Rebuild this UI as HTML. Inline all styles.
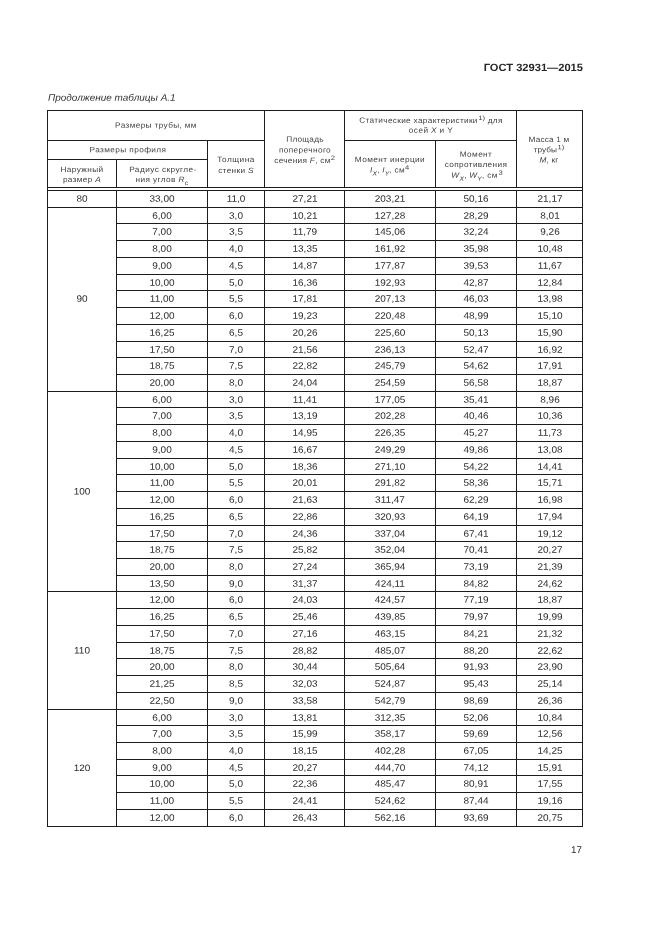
<!DOCTYPE html>
<html lang="ru"><head><meta charset="utf-8"><title>ГОСТ 32931—2015</title>
<style>
html,body{margin:0;padding:0;background:#fff;}
body{width:661px;height:935px;position:relative;overflow:hidden;font-family:"Liberation Sans",sans-serif;}
#page{position:absolute;left:0;top:0;width:661px;height:935px;will-change:transform;}
.l{position:absolute;display:block;background:#1c1c1c;}
.t{position:absolute;width:120px;text-align:center;white-space:nowrap;}
.d{font-size:9.3px;color:#2b2b2b;}
.h{font-size:7.7px;color:#3e3e3e;letter-spacing:0.36px;}
.h em{font-style:italic;}
.h sup{font-size:6.3px;vertical-align:baseline;position:relative;top:-3.3px;line-height:0;display:inline-block;transform:scaleX(1.12);transform-origin:0 50%;margin:0 0.7px 0 0.5px;letter-spacing:0;}
.h sub{font-size:6.3px;vertical-align:baseline;position:relative;top:3px;line-height:0;letter-spacing:0.2px;}
.gost{font-size:10.5px;font-weight:bold;color:#262626;}
.cont{font-size:9.5px;font-style:italic;color:#333;}
.pn{font-size:9.8px;color:#2b2b2b;}
</style></head>
<body>
<div id="page">
<i class="l" style="left:47px;top:109.9px;width:536px;height:1.35px"></i>
<i class="l" style="left:47px;top:826px;width:536px;height:1px"></i>
<i class="l" style="left:46.95px;top:110px;width:1.25px;height:717px"></i>
<i class="l" style="left:582px;top:110px;width:1px;height:717px"></i>
<i class="l" style="left:47px;top:140px;width:218px;height:1px"></i>
<i class="l" style="left:344px;top:140px;width:173px;height:1px"></i>
<i class="l" style="left:47px;top:159px;width:161px;height:1px"></i>
<i class="l" style="left:47px;top:187px;width:536px;height:1.1px"></i>
<i class="l" style="left:47px;top:190px;width:536px;height:1.1px"></i>
<i class="l" style="left:116px;top:159px;width:1px;height:29px"></i>
<i class="l" style="left:116px;top:190px;width:1px;height:637px"></i>
<i class="l" style="left:207px;top:140px;width:1px;height:48px"></i>
<i class="l" style="left:207px;top:190px;width:1px;height:637px"></i>
<i class="l" style="left:264px;top:110px;width:1px;height:78px"></i>
<i class="l" style="left:264px;top:190px;width:1px;height:637px"></i>
<i class="l" style="left:344px;top:110px;width:1px;height:78px"></i>
<i class="l" style="left:344px;top:190px;width:1px;height:637px"></i>
<i class="l" style="left:435px;top:140px;width:1px;height:48px"></i>
<i class="l" style="left:435px;top:190px;width:1px;height:637px"></i>
<i class="l" style="left:516px;top:110px;width:1px;height:78px"></i>
<i class="l" style="left:516px;top:190px;width:1px;height:637px"></i>
<i class="l" style="left:47px;top:207px;width:536px;height:1px"></i>
<i class="l" style="left:116px;top:223px;width:467px;height:1px"></i>
<i class="l" style="left:116px;top:240px;width:467px;height:1px"></i>
<i class="l" style="left:116px;top:257px;width:467px;height:1px"></i>
<i class="l" style="left:116px;top:274px;width:467px;height:1px"></i>
<i class="l" style="left:116px;top:290px;width:467px;height:1px"></i>
<i class="l" style="left:116px;top:307px;width:467px;height:1px"></i>
<i class="l" style="left:116px;top:324px;width:467px;height:1px"></i>
<i class="l" style="left:116px;top:341px;width:467px;height:1px"></i>
<i class="l" style="left:116px;top:357px;width:467px;height:1px"></i>
<i class="l" style="left:116px;top:374px;width:467px;height:1px"></i>
<i class="l" style="left:47px;top:391px;width:536px;height:1px"></i>
<i class="l" style="left:116px;top:407px;width:467px;height:1px"></i>
<i class="l" style="left:116px;top:424px;width:467px;height:1px"></i>
<i class="l" style="left:116px;top:441px;width:467px;height:1px"></i>
<i class="l" style="left:116px;top:458px;width:467px;height:1px"></i>
<i class="l" style="left:116px;top:474px;width:467px;height:1px"></i>
<i class="l" style="left:116px;top:491px;width:467px;height:1px"></i>
<i class="l" style="left:116px;top:508px;width:467px;height:1px"></i>
<i class="l" style="left:116px;top:525px;width:467px;height:1px"></i>
<i class="l" style="left:116px;top:541px;width:467px;height:1px"></i>
<i class="l" style="left:116px;top:558px;width:467px;height:1px"></i>
<i class="l" style="left:116px;top:575px;width:467px;height:1px"></i>
<i class="l" style="left:47px;top:591px;width:536px;height:1px"></i>
<i class="l" style="left:116px;top:608px;width:467px;height:1px"></i>
<i class="l" style="left:116px;top:625px;width:467px;height:1px"></i>
<i class="l" style="left:116px;top:642px;width:467px;height:1px"></i>
<i class="l" style="left:116px;top:658px;width:467px;height:1px"></i>
<i class="l" style="left:116px;top:675px;width:467px;height:1px"></i>
<i class="l" style="left:116px;top:692px;width:467px;height:1px"></i>
<i class="l" style="left:47px;top:709px;width:536px;height:1px"></i>
<i class="l" style="left:116px;top:725px;width:467px;height:1px"></i>
<i class="l" style="left:116px;top:742px;width:467px;height:1px"></i>
<i class="l" style="left:116px;top:759px;width:467px;height:1px"></i>
<i class="l" style="left:116px;top:775px;width:467px;height:1px"></i>
<i class="l" style="left:116px;top:792px;width:467px;height:1px"></i>
<i class="l" style="left:116px;top:809px;width:467px;height:1px"></i>
<div class="t d" style="left:102px;width:120px;top:192px;line-height:12px;transform:translateY(0.7px) scaleX(1.075) rotate(0.03deg);">33,00</div>
<div class="t d" style="left:176px;width:120px;top:192px;line-height:12px;transform:translateY(0.7px) scaleX(1.075) rotate(0.03deg);">11,0</div>
<div class="t d" style="left:245px;width:120px;top:192px;line-height:12px;transform:translateY(0.7px) scaleX(1.075) rotate(0.03deg);">27,21</div>
<div class="t d" style="left:330px;width:120px;top:192px;line-height:12px;transform:translateY(0.7px) scaleX(1.075) rotate(0.03deg);">203,21</div>
<div class="t d" style="left:416px;width:120px;top:192px;line-height:12px;transform:translateY(0.7px) scaleX(1.075) rotate(0.03deg);">50,16</div>
<div class="t d" style="left:489.5px;width:120px;top:192px;line-height:12px;transform:translateY(0.7px) scaleX(1.075) rotate(0.03deg);">21,17</div>
<div class="t d" style="left:102px;width:120px;top:209px;line-height:12px;transform:translateY(0.7px) scaleX(1.075) rotate(0.03deg);">6,00</div>
<div class="t d" style="left:176px;width:120px;top:209px;line-height:12px;transform:translateY(0.7px) scaleX(1.075) rotate(0.03deg);">3,0</div>
<div class="t d" style="left:245px;width:120px;top:209px;line-height:12px;transform:translateY(0.7px) scaleX(1.075) rotate(0.03deg);">10,21</div>
<div class="t d" style="left:330px;width:120px;top:209px;line-height:12px;transform:translateY(0.7px) scaleX(1.075) rotate(0.03deg);">127,28</div>
<div class="t d" style="left:416px;width:120px;top:209px;line-height:12px;transform:translateY(0.7px) scaleX(1.075) rotate(0.03deg);">28,29</div>
<div class="t d" style="left:489.5px;width:120px;top:209px;line-height:12px;transform:translateY(0.7px) scaleX(1.075) rotate(0.03deg);">8,01</div>
<div class="t d" style="left:102px;width:120px;top:225px;line-height:12px;transform:translateY(0.7px) scaleX(1.075) rotate(0.03deg);">7,00</div>
<div class="t d" style="left:176px;width:120px;top:225px;line-height:12px;transform:translateY(0.7px) scaleX(1.075) rotate(0.03deg);">3,5</div>
<div class="t d" style="left:245px;width:120px;top:225px;line-height:12px;transform:translateY(0.7px) scaleX(1.075) rotate(0.03deg);">11,79</div>
<div class="t d" style="left:330px;width:120px;top:225px;line-height:12px;transform:translateY(0.7px) scaleX(1.075) rotate(0.03deg);">145,06</div>
<div class="t d" style="left:416px;width:120px;top:225px;line-height:12px;transform:translateY(0.7px) scaleX(1.075) rotate(0.03deg);">32,24</div>
<div class="t d" style="left:489.5px;width:120px;top:225px;line-height:12px;transform:translateY(0.7px) scaleX(1.075) rotate(0.03deg);">9,26</div>
<div class="t d" style="left:102px;width:120px;top:242px;line-height:12px;transform:translateY(0.7px) scaleX(1.075) rotate(0.03deg);">8,00</div>
<div class="t d" style="left:176px;width:120px;top:242px;line-height:12px;transform:translateY(0.7px) scaleX(1.075) rotate(0.03deg);">4,0</div>
<div class="t d" style="left:245px;width:120px;top:242px;line-height:12px;transform:translateY(0.7px) scaleX(1.075) rotate(0.03deg);">13,35</div>
<div class="t d" style="left:330px;width:120px;top:242px;line-height:12px;transform:translateY(0.7px) scaleX(1.075) rotate(0.03deg);">161,92</div>
<div class="t d" style="left:416px;width:120px;top:242px;line-height:12px;transform:translateY(0.7px) scaleX(1.075) rotate(0.03deg);">35,98</div>
<div class="t d" style="left:489.5px;width:120px;top:242px;line-height:12px;transform:translateY(0.7px) scaleX(1.075) rotate(0.03deg);">10,48</div>
<div class="t d" style="left:102px;width:120px;top:259px;line-height:12px;transform:translateY(0.7px) scaleX(1.075) rotate(0.03deg);">9,00</div>
<div class="t d" style="left:176px;width:120px;top:259px;line-height:12px;transform:translateY(0.7px) scaleX(1.075) rotate(0.03deg);">4,5</div>
<div class="t d" style="left:245px;width:120px;top:259px;line-height:12px;transform:translateY(0.7px) scaleX(1.075) rotate(0.03deg);">14,87</div>
<div class="t d" style="left:330px;width:120px;top:259px;line-height:12px;transform:translateY(0.7px) scaleX(1.075) rotate(0.03deg);">177,87</div>
<div class="t d" style="left:416px;width:120px;top:259px;line-height:12px;transform:translateY(0.7px) scaleX(1.075) rotate(0.03deg);">39,53</div>
<div class="t d" style="left:489.5px;width:120px;top:259px;line-height:12px;transform:translateY(0.7px) scaleX(1.075) rotate(0.03deg);">11,67</div>
<div class="t d" style="left:102px;width:120px;top:276px;line-height:12px;transform:translateY(0.7px) scaleX(1.075) rotate(0.03deg);">10,00</div>
<div class="t d" style="left:176px;width:120px;top:276px;line-height:12px;transform:translateY(0.7px) scaleX(1.075) rotate(0.03deg);">5,0</div>
<div class="t d" style="left:245px;width:120px;top:276px;line-height:12px;transform:translateY(0.7px) scaleX(1.075) rotate(0.03deg);">16,36</div>
<div class="t d" style="left:330px;width:120px;top:276px;line-height:12px;transform:translateY(0.7px) scaleX(1.075) rotate(0.03deg);">192,93</div>
<div class="t d" style="left:416px;width:120px;top:276px;line-height:12px;transform:translateY(0.7px) scaleX(1.075) rotate(0.03deg);">42,87</div>
<div class="t d" style="left:489.5px;width:120px;top:276px;line-height:12px;transform:translateY(0.7px) scaleX(1.075) rotate(0.03deg);">12,84</div>
<div class="t d" style="left:102px;width:120px;top:292px;line-height:12px;transform:translateY(0.7px) scaleX(1.075) rotate(0.03deg);">11,00</div>
<div class="t d" style="left:176px;width:120px;top:292px;line-height:12px;transform:translateY(0.7px) scaleX(1.075) rotate(0.03deg);">5,5</div>
<div class="t d" style="left:245px;width:120px;top:292px;line-height:12px;transform:translateY(0.7px) scaleX(1.075) rotate(0.03deg);">17,81</div>
<div class="t d" style="left:330px;width:120px;top:292px;line-height:12px;transform:translateY(0.7px) scaleX(1.075) rotate(0.03deg);">207,13</div>
<div class="t d" style="left:416px;width:120px;top:292px;line-height:12px;transform:translateY(0.7px) scaleX(1.075) rotate(0.03deg);">46,03</div>
<div class="t d" style="left:489.5px;width:120px;top:292px;line-height:12px;transform:translateY(0.7px) scaleX(1.075) rotate(0.03deg);">13,98</div>
<div class="t d" style="left:102px;width:120px;top:309px;line-height:12px;transform:translateY(0.7px) scaleX(1.075) rotate(0.03deg);">12,00</div>
<div class="t d" style="left:176px;width:120px;top:309px;line-height:12px;transform:translateY(0.7px) scaleX(1.075) rotate(0.03deg);">6,0</div>
<div class="t d" style="left:245px;width:120px;top:309px;line-height:12px;transform:translateY(0.7px) scaleX(1.075) rotate(0.03deg);">19,23</div>
<div class="t d" style="left:330px;width:120px;top:309px;line-height:12px;transform:translateY(0.7px) scaleX(1.075) rotate(0.03deg);">220,48</div>
<div class="t d" style="left:416px;width:120px;top:309px;line-height:12px;transform:translateY(0.7px) scaleX(1.075) rotate(0.03deg);">48,99</div>
<div class="t d" style="left:489.5px;width:120px;top:309px;line-height:12px;transform:translateY(0.7px) scaleX(1.075) rotate(0.03deg);">15,10</div>
<div class="t d" style="left:102px;width:120px;top:326px;line-height:12px;transform:translateY(0.7px) scaleX(1.075) rotate(0.03deg);">16,25</div>
<div class="t d" style="left:176px;width:120px;top:326px;line-height:12px;transform:translateY(0.7px) scaleX(1.075) rotate(0.03deg);">6,5</div>
<div class="t d" style="left:245px;width:120px;top:326px;line-height:12px;transform:translateY(0.7px) scaleX(1.075) rotate(0.03deg);">20,26</div>
<div class="t d" style="left:330px;width:120px;top:326px;line-height:12px;transform:translateY(0.7px) scaleX(1.075) rotate(0.03deg);">225,60</div>
<div class="t d" style="left:416px;width:120px;top:326px;line-height:12px;transform:translateY(0.7px) scaleX(1.075) rotate(0.03deg);">50,13</div>
<div class="t d" style="left:489.5px;width:120px;top:326px;line-height:12px;transform:translateY(0.7px) scaleX(1.075) rotate(0.03deg);">15,90</div>
<div class="t d" style="left:102px;width:120px;top:343px;line-height:12px;transform:translateY(0.7px) scaleX(1.075) rotate(0.03deg);">17,50</div>
<div class="t d" style="left:176px;width:120px;top:343px;line-height:12px;transform:translateY(0.7px) scaleX(1.075) rotate(0.03deg);">7,0</div>
<div class="t d" style="left:245px;width:120px;top:343px;line-height:12px;transform:translateY(0.7px) scaleX(1.075) rotate(0.03deg);">21,56</div>
<div class="t d" style="left:330px;width:120px;top:343px;line-height:12px;transform:translateY(0.7px) scaleX(1.075) rotate(0.03deg);">236,13</div>
<div class="t d" style="left:416px;width:120px;top:343px;line-height:12px;transform:translateY(0.7px) scaleX(1.075) rotate(0.03deg);">52,47</div>
<div class="t d" style="left:489.5px;width:120px;top:343px;line-height:12px;transform:translateY(0.7px) scaleX(1.075) rotate(0.03deg);">16,92</div>
<div class="t d" style="left:102px;width:120px;top:359px;line-height:12px;transform:translateY(0.7px) scaleX(1.075) rotate(0.03deg);">18,75</div>
<div class="t d" style="left:176px;width:120px;top:359px;line-height:12px;transform:translateY(0.7px) scaleX(1.075) rotate(0.03deg);">7,5</div>
<div class="t d" style="left:245px;width:120px;top:359px;line-height:12px;transform:translateY(0.7px) scaleX(1.075) rotate(0.03deg);">22,82</div>
<div class="t d" style="left:330px;width:120px;top:359px;line-height:12px;transform:translateY(0.7px) scaleX(1.075) rotate(0.03deg);">245,79</div>
<div class="t d" style="left:416px;width:120px;top:359px;line-height:12px;transform:translateY(0.7px) scaleX(1.075) rotate(0.03deg);">54,62</div>
<div class="t d" style="left:489.5px;width:120px;top:359px;line-height:12px;transform:translateY(0.7px) scaleX(1.075) rotate(0.03deg);">17,91</div>
<div class="t d" style="left:102px;width:120px;top:376px;line-height:12px;transform:translateY(0.7px) scaleX(1.075) rotate(0.03deg);">20,00</div>
<div class="t d" style="left:176px;width:120px;top:376px;line-height:12px;transform:translateY(0.7px) scaleX(1.075) rotate(0.03deg);">8,0</div>
<div class="t d" style="left:245px;width:120px;top:376px;line-height:12px;transform:translateY(0.7px) scaleX(1.075) rotate(0.03deg);">24,04</div>
<div class="t d" style="left:330px;width:120px;top:376px;line-height:12px;transform:translateY(0.7px) scaleX(1.075) rotate(0.03deg);">254,59</div>
<div class="t d" style="left:416px;width:120px;top:376px;line-height:12px;transform:translateY(0.7px) scaleX(1.075) rotate(0.03deg);">56,58</div>
<div class="t d" style="left:489.5px;width:120px;top:376px;line-height:12px;transform:translateY(0.7px) scaleX(1.075) rotate(0.03deg);">18,87</div>
<div class="t d" style="left:102px;width:120px;top:393px;line-height:12px;transform:translateY(0.7px) scaleX(1.075) rotate(0.03deg);">6,00</div>
<div class="t d" style="left:176px;width:120px;top:393px;line-height:12px;transform:translateY(0.7px) scaleX(1.075) rotate(0.03deg);">3,0</div>
<div class="t d" style="left:245px;width:120px;top:393px;line-height:12px;transform:translateY(0.7px) scaleX(1.075) rotate(0.03deg);">11,41</div>
<div class="t d" style="left:330px;width:120px;top:393px;line-height:12px;transform:translateY(0.7px) scaleX(1.075) rotate(0.03deg);">177,05</div>
<div class="t d" style="left:416px;width:120px;top:393px;line-height:12px;transform:translateY(0.7px) scaleX(1.075) rotate(0.03deg);">35,41</div>
<div class="t d" style="left:489.5px;width:120px;top:393px;line-height:12px;transform:translateY(0.7px) scaleX(1.075) rotate(0.03deg);">8,96</div>
<div class="t d" style="left:102px;width:120px;top:409px;line-height:12px;transform:translateY(0.7px) scaleX(1.075) rotate(0.03deg);">7,00</div>
<div class="t d" style="left:176px;width:120px;top:409px;line-height:12px;transform:translateY(0.7px) scaleX(1.075) rotate(0.03deg);">3,5</div>
<div class="t d" style="left:245px;width:120px;top:409px;line-height:12px;transform:translateY(0.7px) scaleX(1.075) rotate(0.03deg);">13,19</div>
<div class="t d" style="left:330px;width:120px;top:409px;line-height:12px;transform:translateY(0.7px) scaleX(1.075) rotate(0.03deg);">202,28</div>
<div class="t d" style="left:416px;width:120px;top:409px;line-height:12px;transform:translateY(0.7px) scaleX(1.075) rotate(0.03deg);">40,46</div>
<div class="t d" style="left:489.5px;width:120px;top:409px;line-height:12px;transform:translateY(0.7px) scaleX(1.075) rotate(0.03deg);">10,36</div>
<div class="t d" style="left:102px;width:120px;top:426px;line-height:12px;transform:translateY(0.7px) scaleX(1.075) rotate(0.03deg);">8,00</div>
<div class="t d" style="left:176px;width:120px;top:426px;line-height:12px;transform:translateY(0.7px) scaleX(1.075) rotate(0.03deg);">4,0</div>
<div class="t d" style="left:245px;width:120px;top:426px;line-height:12px;transform:translateY(0.7px) scaleX(1.075) rotate(0.03deg);">14,95</div>
<div class="t d" style="left:330px;width:120px;top:426px;line-height:12px;transform:translateY(0.7px) scaleX(1.075) rotate(0.03deg);">226,35</div>
<div class="t d" style="left:416px;width:120px;top:426px;line-height:12px;transform:translateY(0.7px) scaleX(1.075) rotate(0.03deg);">45,27</div>
<div class="t d" style="left:489.5px;width:120px;top:426px;line-height:12px;transform:translateY(0.7px) scaleX(1.075) rotate(0.03deg);">11,73</div>
<div class="t d" style="left:102px;width:120px;top:443px;line-height:12px;transform:translateY(0.7px) scaleX(1.075) rotate(0.03deg);">9,00</div>
<div class="t d" style="left:176px;width:120px;top:443px;line-height:12px;transform:translateY(0.7px) scaleX(1.075) rotate(0.03deg);">4,5</div>
<div class="t d" style="left:245px;width:120px;top:443px;line-height:12px;transform:translateY(0.7px) scaleX(1.075) rotate(0.03deg);">16,67</div>
<div class="t d" style="left:330px;width:120px;top:443px;line-height:12px;transform:translateY(0.7px) scaleX(1.075) rotate(0.03deg);">249,29</div>
<div class="t d" style="left:416px;width:120px;top:443px;line-height:12px;transform:translateY(0.7px) scaleX(1.075) rotate(0.03deg);">49,86</div>
<div class="t d" style="left:489.5px;width:120px;top:443px;line-height:12px;transform:translateY(0.7px) scaleX(1.075) rotate(0.03deg);">13,08</div>
<div class="t d" style="left:102px;width:120px;top:460px;line-height:12px;transform:translateY(0.7px) scaleX(1.075) rotate(0.03deg);">10,00</div>
<div class="t d" style="left:176px;width:120px;top:460px;line-height:12px;transform:translateY(0.7px) scaleX(1.075) rotate(0.03deg);">5,0</div>
<div class="t d" style="left:245px;width:120px;top:460px;line-height:12px;transform:translateY(0.7px) scaleX(1.075) rotate(0.03deg);">18,36</div>
<div class="t d" style="left:330px;width:120px;top:460px;line-height:12px;transform:translateY(0.7px) scaleX(1.075) rotate(0.03deg);">271,10</div>
<div class="t d" style="left:416px;width:120px;top:460px;line-height:12px;transform:translateY(0.7px) scaleX(1.075) rotate(0.03deg);">54,22</div>
<div class="t d" style="left:489.5px;width:120px;top:460px;line-height:12px;transform:translateY(0.7px) scaleX(1.075) rotate(0.03deg);">14,41</div>
<div class="t d" style="left:102px;width:120px;top:476px;line-height:12px;transform:translateY(0.7px) scaleX(1.075) rotate(0.03deg);">11,00</div>
<div class="t d" style="left:176px;width:120px;top:476px;line-height:12px;transform:translateY(0.7px) scaleX(1.075) rotate(0.03deg);">5,5</div>
<div class="t d" style="left:245px;width:120px;top:476px;line-height:12px;transform:translateY(0.7px) scaleX(1.075) rotate(0.03deg);">20,01</div>
<div class="t d" style="left:330px;width:120px;top:476px;line-height:12px;transform:translateY(0.7px) scaleX(1.075) rotate(0.03deg);">291,82</div>
<div class="t d" style="left:416px;width:120px;top:476px;line-height:12px;transform:translateY(0.7px) scaleX(1.075) rotate(0.03deg);">58,36</div>
<div class="t d" style="left:489.5px;width:120px;top:476px;line-height:12px;transform:translateY(0.7px) scaleX(1.075) rotate(0.03deg);">15,71</div>
<div class="t d" style="left:102px;width:120px;top:493px;line-height:12px;transform:translateY(0.7px) scaleX(1.075) rotate(0.03deg);">12,00</div>
<div class="t d" style="left:176px;width:120px;top:493px;line-height:12px;transform:translateY(0.7px) scaleX(1.075) rotate(0.03deg);">6,0</div>
<div class="t d" style="left:245px;width:120px;top:493px;line-height:12px;transform:translateY(0.7px) scaleX(1.075) rotate(0.03deg);">21,63</div>
<div class="t d" style="left:330px;width:120px;top:493px;line-height:12px;transform:translateY(0.7px) scaleX(1.075) rotate(0.03deg);">311,47</div>
<div class="t d" style="left:416px;width:120px;top:493px;line-height:12px;transform:translateY(0.7px) scaleX(1.075) rotate(0.03deg);">62,29</div>
<div class="t d" style="left:489.5px;width:120px;top:493px;line-height:12px;transform:translateY(0.7px) scaleX(1.075) rotate(0.03deg);">16,98</div>
<div class="t d" style="left:102px;width:120px;top:510px;line-height:12px;transform:translateY(0.7px) scaleX(1.075) rotate(0.03deg);">16,25</div>
<div class="t d" style="left:176px;width:120px;top:510px;line-height:12px;transform:translateY(0.7px) scaleX(1.075) rotate(0.03deg);">6,5</div>
<div class="t d" style="left:245px;width:120px;top:510px;line-height:12px;transform:translateY(0.7px) scaleX(1.075) rotate(0.03deg);">22,86</div>
<div class="t d" style="left:330px;width:120px;top:510px;line-height:12px;transform:translateY(0.7px) scaleX(1.075) rotate(0.03deg);">320,93</div>
<div class="t d" style="left:416px;width:120px;top:510px;line-height:12px;transform:translateY(0.7px) scaleX(1.075) rotate(0.03deg);">64,19</div>
<div class="t d" style="left:489.5px;width:120px;top:510px;line-height:12px;transform:translateY(0.7px) scaleX(1.075) rotate(0.03deg);">17,94</div>
<div class="t d" style="left:102px;width:120px;top:527px;line-height:12px;transform:translateY(0.7px) scaleX(1.075) rotate(0.03deg);">17,50</div>
<div class="t d" style="left:176px;width:120px;top:527px;line-height:12px;transform:translateY(0.7px) scaleX(1.075) rotate(0.03deg);">7,0</div>
<div class="t d" style="left:245px;width:120px;top:527px;line-height:12px;transform:translateY(0.7px) scaleX(1.075) rotate(0.03deg);">24,36</div>
<div class="t d" style="left:330px;width:120px;top:527px;line-height:12px;transform:translateY(0.7px) scaleX(1.075) rotate(0.03deg);">337,04</div>
<div class="t d" style="left:416px;width:120px;top:527px;line-height:12px;transform:translateY(0.7px) scaleX(1.075) rotate(0.03deg);">67,41</div>
<div class="t d" style="left:489.5px;width:120px;top:527px;line-height:12px;transform:translateY(0.7px) scaleX(1.075) rotate(0.03deg);">19,12</div>
<div class="t d" style="left:102px;width:120px;top:543px;line-height:12px;transform:translateY(0.7px) scaleX(1.075) rotate(0.03deg);">18,75</div>
<div class="t d" style="left:176px;width:120px;top:543px;line-height:12px;transform:translateY(0.7px) scaleX(1.075) rotate(0.03deg);">7,5</div>
<div class="t d" style="left:245px;width:120px;top:543px;line-height:12px;transform:translateY(0.7px) scaleX(1.075) rotate(0.03deg);">25,82</div>
<div class="t d" style="left:330px;width:120px;top:543px;line-height:12px;transform:translateY(0.7px) scaleX(1.075) rotate(0.03deg);">352,04</div>
<div class="t d" style="left:416px;width:120px;top:543px;line-height:12px;transform:translateY(0.7px) scaleX(1.075) rotate(0.03deg);">70,41</div>
<div class="t d" style="left:489.5px;width:120px;top:543px;line-height:12px;transform:translateY(0.7px) scaleX(1.075) rotate(0.03deg);">20,27</div>
<div class="t d" style="left:102px;width:120px;top:560px;line-height:12px;transform:translateY(0.7px) scaleX(1.075) rotate(0.03deg);">20,00</div>
<div class="t d" style="left:176px;width:120px;top:560px;line-height:12px;transform:translateY(0.7px) scaleX(1.075) rotate(0.03deg);">8,0</div>
<div class="t d" style="left:245px;width:120px;top:560px;line-height:12px;transform:translateY(0.7px) scaleX(1.075) rotate(0.03deg);">27,24</div>
<div class="t d" style="left:330px;width:120px;top:560px;line-height:12px;transform:translateY(0.7px) scaleX(1.075) rotate(0.03deg);">365,94</div>
<div class="t d" style="left:416px;width:120px;top:560px;line-height:12px;transform:translateY(0.7px) scaleX(1.075) rotate(0.03deg);">73,19</div>
<div class="t d" style="left:489.5px;width:120px;top:560px;line-height:12px;transform:translateY(0.7px) scaleX(1.075) rotate(0.03deg);">21,39</div>
<div class="t d" style="left:102px;width:120px;top:577px;line-height:12px;transform:translateY(0.7px) scaleX(1.075) rotate(0.03deg);">13,50</div>
<div class="t d" style="left:176px;width:120px;top:577px;line-height:12px;transform:translateY(0.7px) scaleX(1.075) rotate(0.03deg);">9,0</div>
<div class="t d" style="left:245px;width:120px;top:577px;line-height:12px;transform:translateY(0.7px) scaleX(1.075) rotate(0.03deg);">31,37</div>
<div class="t d" style="left:330px;width:120px;top:577px;line-height:12px;transform:translateY(0.7px) scaleX(1.075) rotate(0.03deg);">424,11</div>
<div class="t d" style="left:416px;width:120px;top:577px;line-height:12px;transform:translateY(0.7px) scaleX(1.075) rotate(0.03deg);">84,82</div>
<div class="t d" style="left:489.5px;width:120px;top:577px;line-height:12px;transform:translateY(0.7px) scaleX(1.075) rotate(0.03deg);">24,62</div>
<div class="t d" style="left:102px;width:120px;top:593px;line-height:12px;transform:translateY(0.7px) scaleX(1.075) rotate(0.03deg);">12,00</div>
<div class="t d" style="left:176px;width:120px;top:593px;line-height:12px;transform:translateY(0.7px) scaleX(1.075) rotate(0.03deg);">6,0</div>
<div class="t d" style="left:245px;width:120px;top:593px;line-height:12px;transform:translateY(0.7px) scaleX(1.075) rotate(0.03deg);">24,03</div>
<div class="t d" style="left:330px;width:120px;top:593px;line-height:12px;transform:translateY(0.7px) scaleX(1.075) rotate(0.03deg);">424,57</div>
<div class="t d" style="left:416px;width:120px;top:593px;line-height:12px;transform:translateY(0.7px) scaleX(1.075) rotate(0.03deg);">77,19</div>
<div class="t d" style="left:489.5px;width:120px;top:593px;line-height:12px;transform:translateY(0.7px) scaleX(1.075) rotate(0.03deg);">18,87</div>
<div class="t d" style="left:102px;width:120px;top:610px;line-height:12px;transform:translateY(0.7px) scaleX(1.075) rotate(0.03deg);">16,25</div>
<div class="t d" style="left:176px;width:120px;top:610px;line-height:12px;transform:translateY(0.7px) scaleX(1.075) rotate(0.03deg);">6,5</div>
<div class="t d" style="left:245px;width:120px;top:610px;line-height:12px;transform:translateY(0.7px) scaleX(1.075) rotate(0.03deg);">25,46</div>
<div class="t d" style="left:330px;width:120px;top:610px;line-height:12px;transform:translateY(0.7px) scaleX(1.075) rotate(0.03deg);">439,85</div>
<div class="t d" style="left:416px;width:120px;top:610px;line-height:12px;transform:translateY(0.7px) scaleX(1.075) rotate(0.03deg);">79,97</div>
<div class="t d" style="left:489.5px;width:120px;top:610px;line-height:12px;transform:translateY(0.7px) scaleX(1.075) rotate(0.03deg);">19,99</div>
<div class="t d" style="left:102px;width:120px;top:627px;line-height:12px;transform:translateY(0.7px) scaleX(1.075) rotate(0.03deg);">17,50</div>
<div class="t d" style="left:176px;width:120px;top:627px;line-height:12px;transform:translateY(0.7px) scaleX(1.075) rotate(0.03deg);">7,0</div>
<div class="t d" style="left:245px;width:120px;top:627px;line-height:12px;transform:translateY(0.7px) scaleX(1.075) rotate(0.03deg);">27,16</div>
<div class="t d" style="left:330px;width:120px;top:627px;line-height:12px;transform:translateY(0.7px) scaleX(1.075) rotate(0.03deg);">463,15</div>
<div class="t d" style="left:416px;width:120px;top:627px;line-height:12px;transform:translateY(0.7px) scaleX(1.075) rotate(0.03deg);">84,21</div>
<div class="t d" style="left:489.5px;width:120px;top:627px;line-height:12px;transform:translateY(0.7px) scaleX(1.075) rotate(0.03deg);">21,32</div>
<div class="t d" style="left:102px;width:120px;top:644px;line-height:12px;transform:translateY(0.7px) scaleX(1.075) rotate(0.03deg);">18,75</div>
<div class="t d" style="left:176px;width:120px;top:644px;line-height:12px;transform:translateY(0.7px) scaleX(1.075) rotate(0.03deg);">7,5</div>
<div class="t d" style="left:245px;width:120px;top:644px;line-height:12px;transform:translateY(0.7px) scaleX(1.075) rotate(0.03deg);">28,82</div>
<div class="t d" style="left:330px;width:120px;top:644px;line-height:12px;transform:translateY(0.7px) scaleX(1.075) rotate(0.03deg);">485,07</div>
<div class="t d" style="left:416px;width:120px;top:644px;line-height:12px;transform:translateY(0.7px) scaleX(1.075) rotate(0.03deg);">88,20</div>
<div class="t d" style="left:489.5px;width:120px;top:644px;line-height:12px;transform:translateY(0.7px) scaleX(1.075) rotate(0.03deg);">22,62</div>
<div class="t d" style="left:102px;width:120px;top:660px;line-height:12px;transform:translateY(0.7px) scaleX(1.075) rotate(0.03deg);">20,00</div>
<div class="t d" style="left:176px;width:120px;top:660px;line-height:12px;transform:translateY(0.7px) scaleX(1.075) rotate(0.03deg);">8,0</div>
<div class="t d" style="left:245px;width:120px;top:660px;line-height:12px;transform:translateY(0.7px) scaleX(1.075) rotate(0.03deg);">30,44</div>
<div class="t d" style="left:330px;width:120px;top:660px;line-height:12px;transform:translateY(0.7px) scaleX(1.075) rotate(0.03deg);">505,64</div>
<div class="t d" style="left:416px;width:120px;top:660px;line-height:12px;transform:translateY(0.7px) scaleX(1.075) rotate(0.03deg);">91,93</div>
<div class="t d" style="left:489.5px;width:120px;top:660px;line-height:12px;transform:translateY(0.7px) scaleX(1.075) rotate(0.03deg);">23,90</div>
<div class="t d" style="left:102px;width:120px;top:677px;line-height:12px;transform:translateY(0.7px) scaleX(1.075) rotate(0.03deg);">21,25</div>
<div class="t d" style="left:176px;width:120px;top:677px;line-height:12px;transform:translateY(0.7px) scaleX(1.075) rotate(0.03deg);">8,5</div>
<div class="t d" style="left:245px;width:120px;top:677px;line-height:12px;transform:translateY(0.7px) scaleX(1.075) rotate(0.03deg);">32,03</div>
<div class="t d" style="left:330px;width:120px;top:677px;line-height:12px;transform:translateY(0.7px) scaleX(1.075) rotate(0.03deg);">524,87</div>
<div class="t d" style="left:416px;width:120px;top:677px;line-height:12px;transform:translateY(0.7px) scaleX(1.075) rotate(0.03deg);">95,43</div>
<div class="t d" style="left:489.5px;width:120px;top:677px;line-height:12px;transform:translateY(0.7px) scaleX(1.075) rotate(0.03deg);">25,14</div>
<div class="t d" style="left:102px;width:120px;top:694px;line-height:12px;transform:translateY(0.7px) scaleX(1.075) rotate(0.03deg);">22,50</div>
<div class="t d" style="left:176px;width:120px;top:694px;line-height:12px;transform:translateY(0.7px) scaleX(1.075) rotate(0.03deg);">9,0</div>
<div class="t d" style="left:245px;width:120px;top:694px;line-height:12px;transform:translateY(0.7px) scaleX(1.075) rotate(0.03deg);">33,58</div>
<div class="t d" style="left:330px;width:120px;top:694px;line-height:12px;transform:translateY(0.7px) scaleX(1.075) rotate(0.03deg);">542,79</div>
<div class="t d" style="left:416px;width:120px;top:694px;line-height:12px;transform:translateY(0.7px) scaleX(1.075) rotate(0.03deg);">98,69</div>
<div class="t d" style="left:489.5px;width:120px;top:694px;line-height:12px;transform:translateY(0.7px) scaleX(1.075) rotate(0.03deg);">26,36</div>
<div class="t d" style="left:102px;width:120px;top:711px;line-height:12px;transform:translateY(0.7px) scaleX(1.075) rotate(0.03deg);">6,00</div>
<div class="t d" style="left:176px;width:120px;top:711px;line-height:12px;transform:translateY(0.7px) scaleX(1.075) rotate(0.03deg);">3,0</div>
<div class="t d" style="left:245px;width:120px;top:711px;line-height:12px;transform:translateY(0.7px) scaleX(1.075) rotate(0.03deg);">13,81</div>
<div class="t d" style="left:330px;width:120px;top:711px;line-height:12px;transform:translateY(0.7px) scaleX(1.075) rotate(0.03deg);">312,35</div>
<div class="t d" style="left:416px;width:120px;top:711px;line-height:12px;transform:translateY(0.7px) scaleX(1.075) rotate(0.03deg);">52,06</div>
<div class="t d" style="left:489.5px;width:120px;top:711px;line-height:12px;transform:translateY(0.7px) scaleX(1.075) rotate(0.03deg);">10,84</div>
<div class="t d" style="left:102px;width:120px;top:727px;line-height:12px;transform:translateY(0.7px) scaleX(1.075) rotate(0.03deg);">7,00</div>
<div class="t d" style="left:176px;width:120px;top:727px;line-height:12px;transform:translateY(0.7px) scaleX(1.075) rotate(0.03deg);">3,5</div>
<div class="t d" style="left:245px;width:120px;top:727px;line-height:12px;transform:translateY(0.7px) scaleX(1.075) rotate(0.03deg);">15,99</div>
<div class="t d" style="left:330px;width:120px;top:727px;line-height:12px;transform:translateY(0.7px) scaleX(1.075) rotate(0.03deg);">358,17</div>
<div class="t d" style="left:416px;width:120px;top:727px;line-height:12px;transform:translateY(0.7px) scaleX(1.075) rotate(0.03deg);">59,69</div>
<div class="t d" style="left:489.5px;width:120px;top:727px;line-height:12px;transform:translateY(0.7px) scaleX(1.075) rotate(0.03deg);">12,56</div>
<div class="t d" style="left:102px;width:120px;top:744px;line-height:12px;transform:translateY(0.7px) scaleX(1.075) rotate(0.03deg);">8,00</div>
<div class="t d" style="left:176px;width:120px;top:744px;line-height:12px;transform:translateY(0.7px) scaleX(1.075) rotate(0.03deg);">4,0</div>
<div class="t d" style="left:245px;width:120px;top:744px;line-height:12px;transform:translateY(0.7px) scaleX(1.075) rotate(0.03deg);">18,15</div>
<div class="t d" style="left:330px;width:120px;top:744px;line-height:12px;transform:translateY(0.7px) scaleX(1.075) rotate(0.03deg);">402,28</div>
<div class="t d" style="left:416px;width:120px;top:744px;line-height:12px;transform:translateY(0.7px) scaleX(1.075) rotate(0.03deg);">67,05</div>
<div class="t d" style="left:489.5px;width:120px;top:744px;line-height:12px;transform:translateY(0.7px) scaleX(1.075) rotate(0.03deg);">14,25</div>
<div class="t d" style="left:102px;width:120px;top:761px;line-height:12px;transform:translateY(0.7px) scaleX(1.075) rotate(0.03deg);">9,00</div>
<div class="t d" style="left:176px;width:120px;top:761px;line-height:12px;transform:translateY(0.7px) scaleX(1.075) rotate(0.03deg);">4,5</div>
<div class="t d" style="left:245px;width:120px;top:761px;line-height:12px;transform:translateY(0.7px) scaleX(1.075) rotate(0.03deg);">20,27</div>
<div class="t d" style="left:330px;width:120px;top:761px;line-height:12px;transform:translateY(0.7px) scaleX(1.075) rotate(0.03deg);">444,70</div>
<div class="t d" style="left:416px;width:120px;top:761px;line-height:12px;transform:translateY(0.7px) scaleX(1.075) rotate(0.03deg);">74,12</div>
<div class="t d" style="left:489.5px;width:120px;top:761px;line-height:12px;transform:translateY(0.7px) scaleX(1.075) rotate(0.03deg);">15,91</div>
<div class="t d" style="left:102px;width:120px;top:777px;line-height:12px;transform:translateY(0.7px) scaleX(1.075) rotate(0.03deg);">10,00</div>
<div class="t d" style="left:176px;width:120px;top:777px;line-height:12px;transform:translateY(0.7px) scaleX(1.075) rotate(0.03deg);">5,0</div>
<div class="t d" style="left:245px;width:120px;top:777px;line-height:12px;transform:translateY(0.7px) scaleX(1.075) rotate(0.03deg);">22,36</div>
<div class="t d" style="left:330px;width:120px;top:777px;line-height:12px;transform:translateY(0.7px) scaleX(1.075) rotate(0.03deg);">485,47</div>
<div class="t d" style="left:416px;width:120px;top:777px;line-height:12px;transform:translateY(0.7px) scaleX(1.075) rotate(0.03deg);">80,91</div>
<div class="t d" style="left:489.5px;width:120px;top:777px;line-height:12px;transform:translateY(0.7px) scaleX(1.075) rotate(0.03deg);">17,55</div>
<div class="t d" style="left:102px;width:120px;top:794px;line-height:12px;transform:translateY(0.7px) scaleX(1.075) rotate(0.03deg);">11,00</div>
<div class="t d" style="left:176px;width:120px;top:794px;line-height:12px;transform:translateY(0.7px) scaleX(1.075) rotate(0.03deg);">5,5</div>
<div class="t d" style="left:245px;width:120px;top:794px;line-height:12px;transform:translateY(0.7px) scaleX(1.075) rotate(0.03deg);">24,41</div>
<div class="t d" style="left:330px;width:120px;top:794px;line-height:12px;transform:translateY(0.7px) scaleX(1.075) rotate(0.03deg);">524,62</div>
<div class="t d" style="left:416px;width:120px;top:794px;line-height:12px;transform:translateY(0.7px) scaleX(1.075) rotate(0.03deg);">87,44</div>
<div class="t d" style="left:489.5px;width:120px;top:794px;line-height:12px;transform:translateY(0.7px) scaleX(1.075) rotate(0.03deg);">19,16</div>
<div class="t d" style="left:102px;width:120px;top:811px;line-height:12px;transform:translateY(0.7px) scaleX(1.075) rotate(0.03deg);">12,00</div>
<div class="t d" style="left:176px;width:120px;top:811px;line-height:12px;transform:translateY(0.7px) scaleX(1.075) rotate(0.03deg);">6,0</div>
<div class="t d" style="left:245px;width:120px;top:811px;line-height:12px;transform:translateY(0.7px) scaleX(1.075) rotate(0.03deg);">26,43</div>
<div class="t d" style="left:330px;width:120px;top:811px;line-height:12px;transform:translateY(0.7px) scaleX(1.075) rotate(0.03deg);">562,16</div>
<div class="t d" style="left:416px;width:120px;top:811px;line-height:12px;transform:translateY(0.7px) scaleX(1.075) rotate(0.03deg);">93,69</div>
<div class="t d" style="left:489.5px;width:120px;top:811px;line-height:12px;transform:translateY(0.7px) scaleX(1.075) rotate(0.03deg);">20,75</div>
<div class="t d" style="left:22px;width:120px;top:192px;line-height:12px;transform:translateY(0.7px) scaleX(1.075) rotate(0.03deg);">80</div>
<div class="t d" style="left:22px;width:120px;top:292px;line-height:12px;transform:translateY(0.7px) scaleX(1.075) rotate(0.03deg);">90</div>
<div class="t d" style="left:22px;width:120px;top:485px;line-height:12px;transform:translateY(0.6px) scaleX(1.075) rotate(0.03deg);">100</div>
<div class="t d" style="left:22px;width:120px;top:644px;line-height:12px;transform:translateY(0.6px) scaleX(1.075) rotate(0.03deg);">110</div>
<div class="t d" style="left:22px;width:120px;top:761px;line-height:12px;transform:translateY(0.9px) scaleX(1.075) rotate(0.03deg);">120</div>
<div class="t h" style="left:95.9px;width:120px;top:119px;line-height:11px;transform:translateY(0.8px) scaleX(1.075) rotate(0.03deg);letter-spacing:0.33px;">Размеры трубы, мм</div>
<div class="t h" style="left:68.1px;width:120px;top:144px;line-height:11px;transform:translateY(0.2px) scaleX(1.075) rotate(0.03deg);letter-spacing:0.36px;">Размеры профиля</div>
<div class="t h" style="left:22.2px;width:120px;top:163px;line-height:11px;transform:translateY(0.9px) scaleX(1.075) rotate(0.03deg);letter-spacing:0.36px;">Наружный</div>
<div class="t h" style="left:22px;width:120px;top:173px;line-height:11px;transform:translateY(0.9px) scaleX(1.075) rotate(0.03deg);letter-spacing:0.29px;">размер <em>A</em></div>
<div class="t h" style="left:102.9px;width:120px;top:163px;line-height:11px;transform:translateY(0.9px) scaleX(1.075) rotate(0.03deg);letter-spacing:0.4px;">Радиус скругле-</div>
<div class="t h" style="left:102.3px;width:120px;top:173px;line-height:11px;transform:translateY(0.9px) scaleX(1.075) rotate(0.03deg);letter-spacing:0.36px;">ния углов <em>R</em><sub>c</sub></div>
<div class="t h" style="left:176.2px;width:120px;top:153px;line-height:11px;transform:translateY(0.9px) scaleX(1.075) rotate(0.03deg);letter-spacing:0.46px;">Толщина</div>
<div class="t h" style="left:176.2px;width:120px;top:164px;line-height:11px;transform:translateY(0.9px) scaleX(1.075) rotate(0.03deg);letter-spacing:0.31px;">стенки <em>S</em></div>
<div class="t h" style="left:244.6px;width:120px;top:133px;line-height:11px;transform:translateY(0.8px) scaleX(1.075) rotate(0.03deg);letter-spacing:0.17px;">Площадь</div>
<div class="t h" style="left:245.1px;width:120px;top:144px;line-height:11px;transform:translateY(0.4px) scaleX(1.075) rotate(0.03deg);letter-spacing:0.36px;">поперечного</div>
<div class="t h" style="left:245.2px;width:120px;top:154px;line-height:11px;transform:translateY(0.9px) scaleX(1.075) rotate(0.03deg);letter-spacing:0.26px;">сечения <em>F</em>, см<sup>2</sup></div>
<div class="t h" style="left:330.8px;width:200px;top:114px;line-height:11px;transform:translateY(0.9px) scaleX(1.075) rotate(0.03deg);letter-spacing:0.29px;">Статические характеристики<sup>1)</sup> для</div>
<div class="t h" style="left:371.4px;width:120px;top:124px;line-height:11px;transform:translateY(0.8px) scaleX(1.075) rotate(0.03deg);word-spacing:-0.2px;letter-spacing:0.42px;">осей <em>X</em> и Y</div>
<div class="t h" style="left:330.3px;width:120px;top:154px;line-height:11px;transform:translateY(0px) scaleX(1.075) rotate(0.03deg);letter-spacing:0.36px;">Момент инерции</div>
<div class="t h" style="left:330.3px;width:120px;top:164px;line-height:11px;transform:translateY(0.6px) scaleX(1.075) rotate(0.03deg);letter-spacing:0.19px;"><em>I</em><sub><em>X</em></sub>, <em>I</em><sub><em>Y</em></sub>, см<sup>4</sup></div>
<div class="t h" style="left:415.7px;width:120px;top:148px;line-height:11px;transform:translateY(0.7px) scaleX(1.075) rotate(0.03deg);letter-spacing:0.36px;">Момент</div>
<div class="t h" style="left:416.3px;width:120px;top:158px;line-height:11px;transform:translateY(0.9px) scaleX(1.075) rotate(0.03deg);letter-spacing:0.32px;">сопротивления</div>
<div class="t h" style="left:416.8px;width:120px;top:169px;line-height:11px;transform:translateY(0.7px) scaleX(1.075) rotate(0.03deg);letter-spacing:0.25px;"><em>W</em><sub><em>X</em></sub>, <em>W</em><sub><em>Y</em></sub>, см<sup>3</sup></div>
<div class="t h" style="left:489.2px;width:120px;top:133px;line-height:11px;transform:translateY(0.95px) scaleX(1.075) rotate(0.03deg);letter-spacing:0.15px;">Масса 1 м</div>
<div class="t h" style="left:489.2px;width:120px;top:144px;line-height:11px;transform:translateY(0.3px) scaleX(1.075) rotate(0.03deg);letter-spacing:0px;">трубы<sup>1)</sup></div>
<div class="t h" style="left:489.2px;width:120px;top:154px;line-height:11px;transform:translateY(0.5px) scaleX(1.075) rotate(0.03deg);letter-spacing:0.2px;"><em>M</em>, кг</div>
<div class="t gost" style="left:462.6px;text-align:right;transform-origin:100% 50%;top:60px;line-height:14px;transform:translateY(0px) scaleX(1.06) rotate(0.03deg);">ГОСТ 32931—2015</div>
<div class="t cont" style="left:47.7px;text-align:left;transform-origin:0 50%;top:90px;line-height:13px;transform:translateY(0.7px) scaleX(1.05) rotate(0.03deg);">Продолжение таблицы А.1</div>
<div class="t pn" style="left:461.9px;text-align:right;transform-origin:100% 50%;top:843px;line-height:13px;transform:translateY(0px) scaleX(1.0) rotate(0.03deg);">17</div>
</div>
</body></html>
